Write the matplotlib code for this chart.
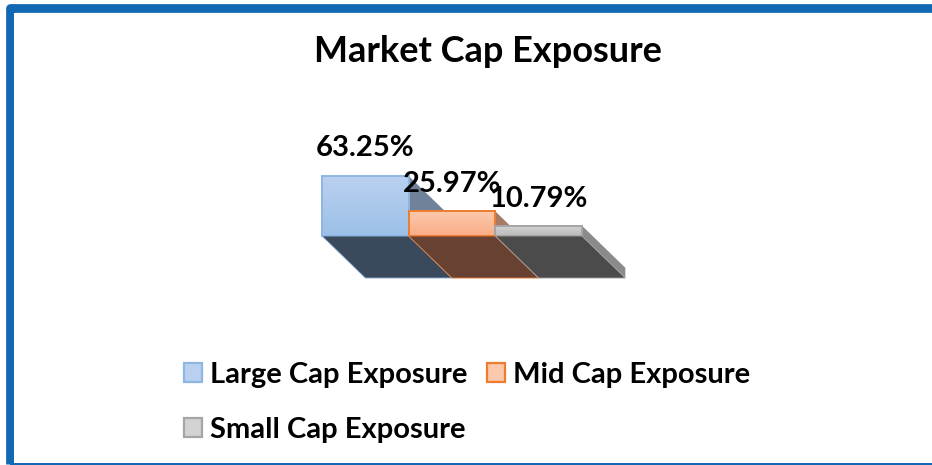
import numpy as np
import matplotlib
matplotlib.use("Agg")
import matplotlib.pyplot as plt
from matplotlib.patches import Polygon, Rectangle
from matplotlib.colors import LinearSegmentedColormap

W, H = 932, 465
categories = ["Large Cap Exposure", "Mid Cap Exposure", "Small Cap Exposure"]
values = [63.25, 25.97, 10.79]
labels = ["63.25%", "25.97%", "10.79%"]
top_colors = ["#b9d1ef", "#fcc9ac", "#d2d2d2"]
bot_colors = ["#9cc0e8", "#f9ad87", "#bcbcbc"]
edge_colors = ["#8fb6e2", "#ed7d31", "#a5a5a5"]
floor_colors = ["#3a4a5c", "#674232", "#4b4b4b"]
side_colors = ["#6f8299", "#a87a62", "#8a8a8a"]
DX, DY = 0.5, 44.3

plt.rcParams["font.family"] = ["Lato", "DejaVu Sans"]
plt.rcParams["font.weight"] = "bold"

fig = plt.figure(figsize=(W / 100, H / 100), dpi=100, facecolor="white")
frame_color = "#1368b3"
fig.add_artist(Rectangle((9.5 / W, 1 - 464 / H), 960 / W, 455.5 / H, transform=fig.transFigure,
                         fill=False, edgecolor=frame_color, linewidth=6.3, joinstyle="round", zorder=-3))
fig.add_artist(Rectangle((14 / W, 2.5 / H), 1, (H - 2.5 - 13) / H, transform=fig.transFigure,
                         facecolor="white", edgecolor="none", zorder=-2))

# axes: category 0..3 spans 322..582 px, 0..63.25 spans y 236..176 px
ax = fig.add_axes([322 / W, 1 - 236 / H, 260 / W, 60 / H])
ax.set_xlim(0, 3)
ax.set_ylim(0, 63.25)
ax.axis("off")

for i, v in enumerate(values):
    ax.add_patch(Polygon([(i + 1, v), (i + 1 + DX, v - DY), (i + 1 + DX, -DY), (i + 1, 0)],
                         facecolor=side_colors[i], edgecolor="none", clip_on=False, zorder=2 + i))
for i, v in enumerate(values):
    cmap = LinearSegmentedColormap.from_list("g", [bot_colors[i], top_colors[i]])
    im = ax.imshow(np.linspace(0, 1, 64)[::-1, None], extent=(i, i + 1, 0, v), cmap=cmap,
                   aspect="auto", zorder=3 + i, clip_on=False)
    ax.add_patch(Rectangle((i, 0), 1, v, fill=False, edgecolor=edge_colors[i], linewidth=1.4,
                           clip_on=False, zorder=3.5 + i))
    ax.add_patch(Polygon([(i, 0), (i + 1, 0), (i + 1 + DX, -DY), (i + DX, -DY)],
                         facecolor=floor_colors[i], edgecolor=edge_colors[i], linewidth=0.6,
                         clip_on=False, zorder=7))
    ax.text(i + 0.5, v + 15.5 if i == 0 else v + 15, labels[i], ha="center", va="bottom", fontsize=21,
            color="black", clip_on=False, zorder=10)
ax.set_xlim(0, 3)
ax.set_ylim(0, 63.25)

fig.text(488 / W, 1 - 51 / H, "Market Cap Exposure", ha="center", va="center", fontsize=26, color="black")

order = [0, 2, 1]
handles = [Rectangle((0, 0), 1, 1, facecolor=top_colors[i], edgecolor=edge_colors[i], linewidth=1.6) for i in order]
fig.legend(handles, [categories[i] for i in order], ncol=2, frameon=False, fontsize=21,
           loc="upper left", bbox_to_anchor=(172.5 / W, 1 - 350 / H), handlelength=0.62, handleheight=0.62,
           handletextpad=0.25, labelspacing=1.0, columnspacing=0.7, borderpad=0.4, borderaxespad=0)

fig.savefig("out.png", dpi=100)
